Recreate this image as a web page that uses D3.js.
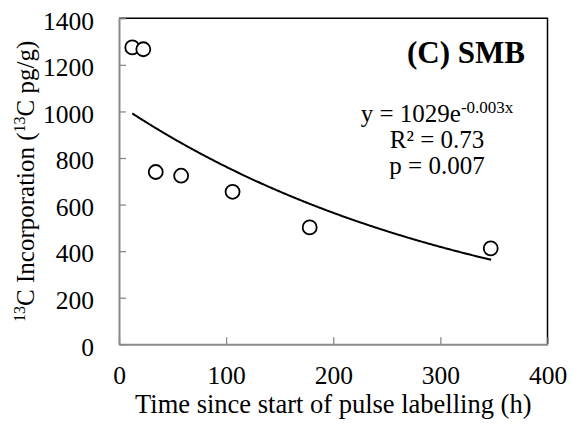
<!DOCTYPE html>
<html>
<head>
  <meta charset="utf8">
  <style type="text/css">
    body { margin: 0; background: #fff; }
    svg { display: block; }
    text { font-family: "Liberation Serif", "Times New Roman", serif; fill: #000; }
  </style>
</head>
<body>
<script src="https://d3js.org/d3.v7.min.js"></script>
<script type="text/javascript">

// sampling times (h) and 13C incorporation (pg/g)
var hours = [12.4, 22.7, 34.3, 58, 106, 178, 347]
var incorporation = [1275, 1267, 740, 724, 655, 502, 412]

var xTicks = [0, 100, 200, 300, 400]
var yTicks = [0, 200, 400, 600, 800, 1000, 1200, 1400]

// exponential trendline y = a * e^(b x) as printed on the chart
var fitA = 1029, fitB = -0.003
var fitLabels = ['R\u00b2 = 0.73', 'p = 0.007']

var width = 572, height = 432
var margin = { top: 18.3, right: 24.5, bottom: 87.7, left: 119 }

var svg = d3.select('body').append('svg')
    .attr('width', width)
    .attr('height', height)

var x = d3.scaleLinear().domain([0, 400]).range([margin.left, width - margin.right])
var y = d3.scaleLinear().domain([0, 1400]).range([height - margin.bottom, margin.top])

var axisColor = '#8a8a8a'

// top and right frame
svg.append('path')
    .attr('d', 'M' + x(0) + ',' + y(1400) + 'H' + x(400) + 'V' + y(0))
    .attr('fill', 'none')
    .attr('stroke', '#000')
    .attr('stroke-width', 1.5)

// y axis
var yAxis = svg.append('g')
    .attr('transform', 'translate(' + x(0) + ',0)')
    .call(d3.axisLeft(y).tickValues(yTicks).tickFormat(d3.format('d'))
      .tickSizeInner(-7).tickSizeOuter(0).tickPadding(25))

// x axis
var xAxis = svg.append('g')
    .attr('transform', 'translate(0,' + y(0) + ')')
    .call(d3.axisBottom(x).tickValues(xTicks).tickFormat(d3.format('d'))
      .tickSizeInner(-7).tickSizeOuter(0).tickPadding(22))

;[xAxis, yAxis].forEach(function(ax) {
  ax.select('.domain').attr('stroke', axisColor).attr('stroke-width', 2)
  ax.selectAll('.tick line').attr('stroke', axisColor).attr('stroke-width', 1.3)
  ax.selectAll('.tick text')
    .style('font-family', '"Liberation Serif", "Times New Roman", serif')
    .style('font-size', '25.5px')
    .attr('fill', '#000')
})
yAxis.selectAll('.tick text').attr('dy', '0.42em')
xAxis.selectAll('.tick text').attr('dy', '0.7em')

// fitted curve over the sampled range
var fitX = d3.range(d3.min(hours), d3.max(hours) + 0.5, 1)
svg.append('path')
    .datum(fitX)
    .attr('fill', 'none')
    .attr('stroke', '#000')
    .attr('stroke-width', 2)
    .attr('d', d3.line()
      .x(function(d) { return x(d) })
      .y(function(d) { return y(fitA * Math.exp(fitB * d)) }))

// observations
svg.append('g').selectAll('circle')
    .data(hours)
    .enter()
    .append('circle')
    .attr('cx', function(d) { return x(d) })
    .attr('cy', function(d, i) { return y(incorporation[i]) })
    .attr('r', 7)
    .attr('fill', '#fff')
    .attr('stroke', '#000')
    .attr('stroke-width', 1.8)

// panel label
svg.append('text')
    .attr('x', 525)
    .attr('y', 63)
    .attr('text-anchor', 'end')
    .style('font-size', '31px')
    .style('font-weight', 'bold')
    .text('(C) SMB')

// fit equation and stats
var eq = svg.append('text')
    .attr('x', 437)
    .attr('y', 122)
    .attr('text-anchor', 'middle')
    .style('font-size', '25px')
eq.append('tspan').text('y = ' + fitA + 'e')
eq.append('tspan').attr('dy', -9).style('font-size', '17px').text(fitB + 'x')

svg.selectAll('.stat')
    .data(fitLabels)
    .enter()
    .append('text')
    .attr('class', 'stat')
    .attr('x', 437)
    .attr('y', function(d, i) { return 147.5 + i * 26 })
    .attr('text-anchor', 'middle')
    .style('font-size', '25px')
    .text(function(d) { return d })

// axis titles
svg.append('text')
    .attr('x', x(200))
    .attr('y', 413)
    .attr('text-anchor', 'middle')
    .style('font-size', '26.5px')
    .text('Time since start of pulse labelling (h)')

var yt = svg.append('text')
    .attr('transform', 'translate(34,' + y(700) + ') rotate(-90)')
    .attr('text-anchor', 'middle')
    .style('font-size', '25px')
yt.append('tspan').attr('dy', -9).style('font-size', '16px').text('13')
yt.append('tspan').attr('dy', 9).text('C Incorporation (')
yt.append('tspan').attr('dy', -9).style('font-size', '16px').text('13')
yt.append('tspan').attr('dy', 9).text('C pg/g)')

</script>
</body>
</html>
